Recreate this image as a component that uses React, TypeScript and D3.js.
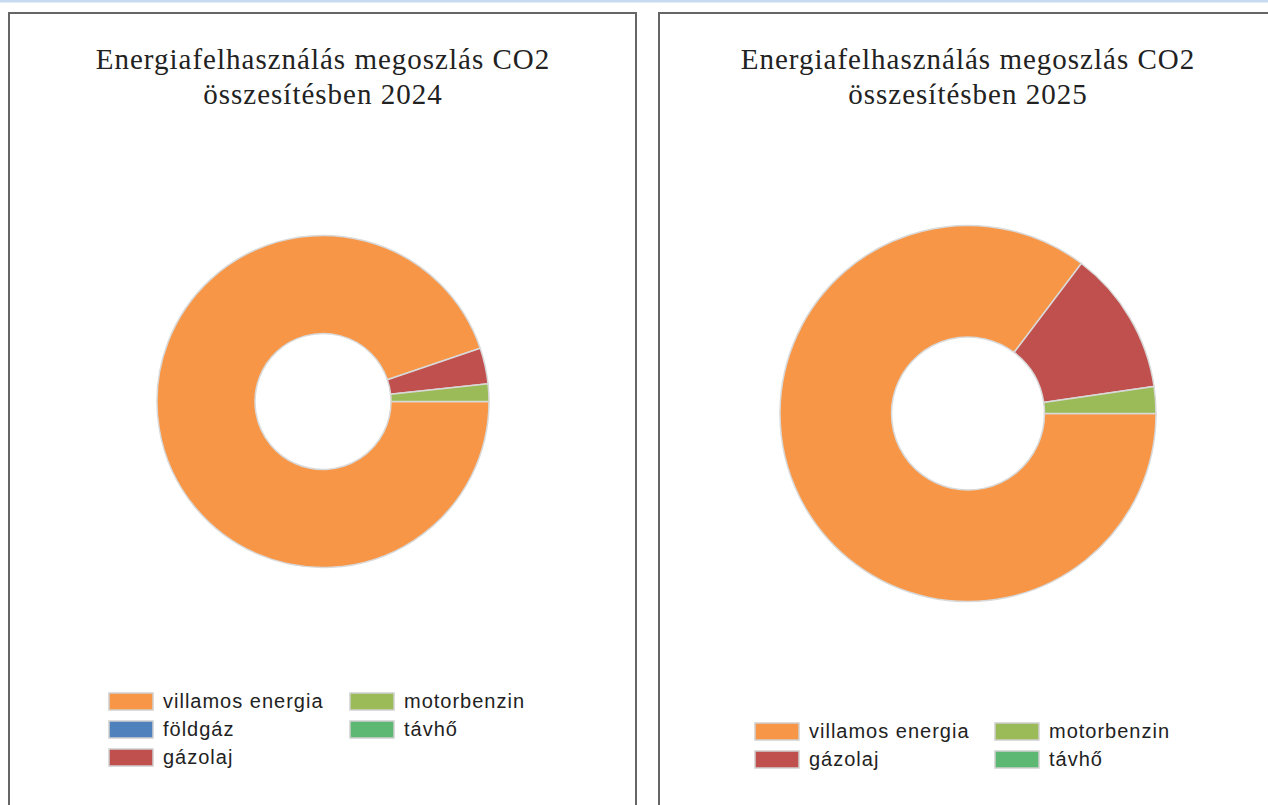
import React from 'react';
import * as d3 from 'd3';

// categories and colours (same order in both charts)
const categories = ['villamos energia', 'földgáz', 'gázolaj', 'motorbenzin', 'távhő'];
const colors = ['#f79646', '#4f81bd', '#c0504d', '#9bbb59', '#5cb873'];

// share of CO2 per category, in percent
const values2024 = [94.8, 0, 3.5, 1.7, 0];
const values2025 = [85.3, 0, 12.4, 2.3, 0];

// legend items per chart (2025 has no földgáz)
const legend2024 = ['villamos energia', 'földgáz', 'gázolaj', 'motorbenzin', 'távhő'];
const legend2025 = ['villamos energia', 'gázolaj', 'motorbenzin', 'távhő'];

const titles = [
  ['Energiafelhasználás megoszlás CO2', 'összesítésben 2024'],
  ['Energiafelhasználás megoszlás CO2', 'összesítésben 2025'],
];

interface Slice {
  name: string;
  value: number;
  color: string;
}

interface DonutProps {
  values: number[];
  legend: string[];
  title: string[];
  panelX: number;
  panelW: number;
  cx: number;
  cy: number;
  outer: number;
  inner: number;
  legendX: number;
  legendY: number;
  col2X: number;
}

const Donut: React.FC<DonutProps> = ({
  values, legend, title, panelX, panelW, cx, cy, outer, inner, legendX, legendY, col2X,
}) => {
  const data: Slice[] = categories.map((c, i) => ({ name: c, value: values[i], color: colors[i] }));
  const pie = d3.pie<Slice>()
    .sort(null)
    .value(d => d.value)
    .startAngle(Math.PI / 2)
    .endAngle(Math.PI / 2 + 2 * Math.PI);
  const arc = d3.arc<d3.PieArcDatum<Slice>>().innerRadius(inner).outerRadius(outer);
  const arcs = pie(data).filter(d => d.data.value > 0);

  const rows = Math.ceil(legend.length / 2);
  const rowH = 28;

  return (
    <g>
      <rect x={panelX} y={13} width={panelW} height={820} fill="#fff" stroke="#666" strokeWidth={2} />
      <text
        textAnchor="middle"
        fontFamily="'Liberation Serif', 'Times New Roman', serif"
        fontSize={29}
        letterSpacing={1}
        fill="#222"
      >
        {title.map((t, i) => (
          <tspan key={i} x={cx} y={69 + i * 35}>{t}</tspan>
        ))}
      </text>
      <g transform={`translate(${cx},${cy})`}>
        {arcs.map((d, i) => (
          <path key={i} d={arc(d) || undefined} fill={d.data.color} stroke="#d9d9d9" strokeWidth={1.5} />
        ))}
      </g>
      {legend.map((name, i) => {
        const col = Math.floor(i / rows);
        const row = i % rows;
        const x = col === 0 ? legendX : col2X;
        const y = legendY + row * rowH;
        const color = colors[categories.indexOf(name)];
        return (
          <g key={name}>
            <rect x={x} y={y} width={44} height={17} fill={color} stroke="#d0d0d0" strokeWidth={1.5} />
            <text
              x={x + 54}
              y={y + 15}
              fontFamily="'Liberation Sans', Arial, sans-serif"
              fontSize={20}
              letterSpacing={1}
              fill="#222"
            >
              {name}
            </text>
          </g>
        );
      })}
    </g>
  );
};

const App: React.FC = () => {
  return (
    <svg width={1268} height={805} style={{ position: 'absolute', left: 0, top: 0, background: '#fff' }}>
      <rect x={0} y={0} width={1268} height={2.5} fill="#c6d9f0" />
      <Donut
        values={values2024}
        legend={legend2024}
        title={titles[0]}
        panelX={9}
        panelW={627}
        cx={323}
        cy={401.5}
        outer={166}
        inner={68}
        legendX={109}
        legendY={693}
        col2X={350}
      />
      <Donut
        values={values2025}
        legend={legend2025}
        title={titles[1]}
        panelX={659}
        panelW={640}
        cx={968}
        cy={413.5}
        outer={188}
        inner={76.5}
        legendX={755}
        legendY={723}
        col2X={995}
      />
    </svg>
  );
};

export default App;
